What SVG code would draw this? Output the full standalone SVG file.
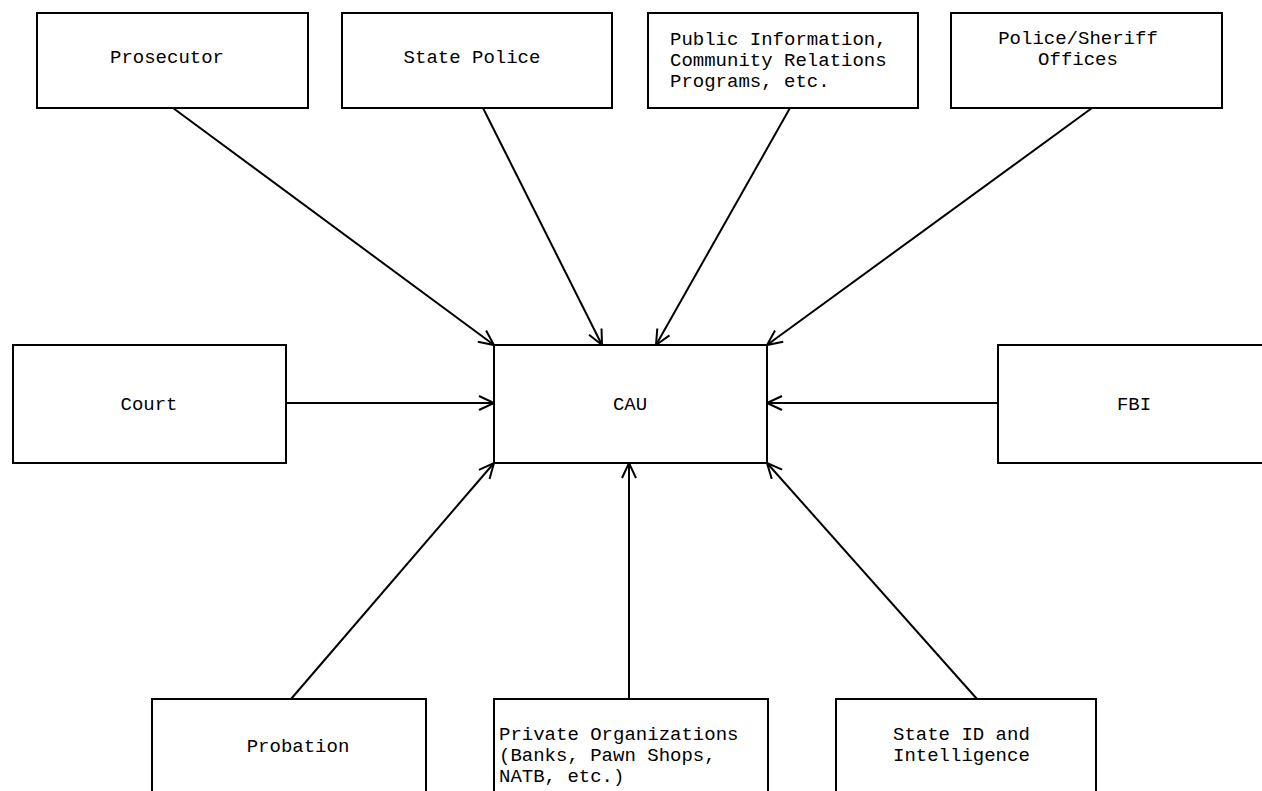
<svg xmlns="http://www.w3.org/2000/svg" width="1262" height="791" viewBox="0 0 1262 791">
<style>
.box{fill:#fff;stroke:#000;stroke-width:2}
.t{font-family:"Liberation Mono","Courier New",monospace;font-size:19px;fill:#000}
.c{text-anchor:middle}
.con line{stroke:#000;stroke-width:2;marker-end:url(#arr)}
</style>
<defs>
<marker id="arr" markerUnits="userSpaceOnUse" markerWidth="20" markerHeight="20" viewBox="0 0 20 20" refX="17" refY="8" orient="auto">
<path d="M2,1 L17,8 L2,15" fill="none" stroke="#000" stroke-width="2"/>
</marker>
</defs>
<rect width="1262" height="791" fill="#fff"/>
<g id="connectors" class="con">
<line x1="173" y1="108" x2="494" y2="345"/>
<line x1="483" y1="108" x2="602" y2="345"/>
<line x1="790" y1="108" x2="656" y2="345"/>
<line x1="1092" y1="108" x2="767" y2="345"/>
<line x1="286" y1="403" x2="494" y2="403"/>
<line x1="998" y1="403" x2="767" y2="403"/>
<line x1="291" y1="699" x2="494" y2="463"/>
<line x1="629" y1="699" x2="629" y2="463"/>
<line x1="977" y1="699" x2="767" y2="463"/>
</g>
<g id="prosecutor"><rect class="box" x="37" y="13" width="271" height="95"/><text class="t c" x="167" y="63">Prosecutor</text></g>
<g id="state-police"><rect class="box" x="342" y="13" width="270" height="95"/><text class="t c" x="472" y="63">State Police</text></g>
<g id="public-info"><rect class="box" x="648" y="13" width="270" height="95"/>
<text class="t"><tspan x="670" y="45">Public Information,</tspan><tspan x="670" y="66">Community Relations</tspan><tspan x="670" y="87">Programs, etc.</tspan></text></g>
<g id="police-sheriff"><rect class="box" x="951" y="13" width="271" height="95"/>
<text class="t c"><tspan x="1078" y="44">Police/Sheriff</tspan><tspan x="1078" y="65">Offices</tspan></text></g>
<g id="court"><rect class="box" x="13" y="345" width="273" height="118"/><text class="t c" x="149" y="410">Court</text></g>
<g id="cau"><rect class="box" x="494" y="345" width="273" height="118"/><text class="t c" x="630" y="410">CAU</text></g>
<g id="fbi"><rect class="box" x="998" y="345" width="280" height="118"/><text class="t c" x="1134" y="410">FBI</text></g>
<g id="probation"><rect class="box" x="152" y="699" width="274" height="110"/><text class="t c" x="298" y="752">Probation</text></g>
<g id="private-orgs"><rect class="box" x="494" y="699" width="274" height="110"/>
<text class="t"><tspan x="499" y="740">Private Organizations</tspan><tspan x="499" y="761">(Banks, Pawn Shops,</tspan><tspan x="499" y="782">NATB, etc.)</tspan></text></g>
<g id="state-id"><rect class="box" x="836" y="699" width="260" height="110"/>
<text class="t"><tspan x="893" y="740">State ID and</tspan><tspan x="893" y="761">Intelligence</tspan></text></g>
</svg>
